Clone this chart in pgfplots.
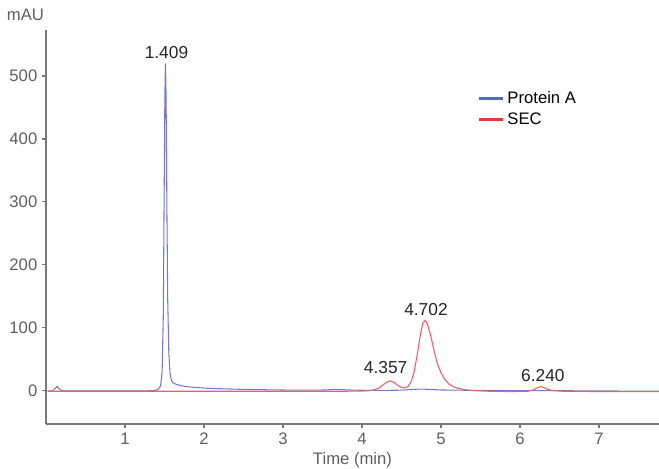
\documentclass[border=0pt]{standalone}
\usepackage{fontspec}
\setmainfont{Liberation Sans}
\usepackage{pgfplots}
\pgfplotsset{compat=1.18}
\definecolor{pablue}{RGB}{118,118,212}
\definecolor{secred}{RGB}{236,95,105}
\definecolor{legblue}{RGB}{75,110,180}
\definecolor{legred}{RGB}{232,55,55}
\definecolor{axgray}{RGB}{120,120,120}
\definecolor{txtgray}{RGB}{95,95,95}
\begin{document}
\begin{tikzpicture}[x=1pt,y=1pt]
\begin{axis}[
  name=ax,
  scale only axis,
  width=459.75pt, height=295.5pt,
  xmin=0, xmax=7.76, ymin=-52.5, ymax=573,
  axis lines*=left,
  axis line style={axgray, line width=0.9pt},
  xtick={1,2,3,4,5,6,7}, ytick={0,100,200,300,400,500},
  tick style={axgray, line width=0.8pt},
  tick align=outside, major tick length=3pt,
  /pgf/number format/assume math mode=true,
  ticklabel style={font=\fontsize{12.5}{14}\selectfont, text=txtgray},
  xlabel={Time (min)},
  xlabel style={font=\fontsize{12.5}{14}\selectfont, text=txtgray, yshift=1pt},
  clip=false,
  legend style={at={(axis cs:5.45,482)}, anchor=north west, draw=none, fill=none,
    font=\fontsize{12.5}{14}\selectfont, row sep=1.5pt, inner sep=1pt},
  legend cell align=left,
  legend image code/.code={\draw[#1, line width=2pt] (0pt,0pt) -- (18pt,0pt);},
]
\addplot[pablue, line width=0.8pt, forget plot] coordinates {
(0.02,0) (0.08,0) (0.11,3) (0.14,7) (0.17,3) (0.21,0) (0.5,0) (1.0,0) (1.3,0.2)
(1.38,0.8) (1.42,2.5) (1.45,8) (1.47,30) (1.485,120) (1.495,300) (1.505,470) (1.512,520)
(1.52,470) (1.53,300) (1.54,150) (1.555,60) (1.57,28) (1.59,16) (1.62,12) (1.66,10)
(1.72,8) (1.8,6.5) (1.9,5.5) (2.0,4.5) (2.2,3.5) (2.5,2.5) (2.8,1.8) (3.1,1.3)
(3.4,1.2) (3.55,1.6) (3.65,2.5) (3.75,2) (3.9,1.2) (4.2,0.8) (4.5,1.2) (4.65,2.5)
(4.75,3) (4.85,2.5) (5.0,1.5) (5.4,1) (5.9,0.5) (6.3,0.5) (7.0,0) (7.76,-0.5)};
\addplot[secred, line width=0.8pt, forget plot] coordinates {
(0.02,-0.5) (1.0,-0.5) (2.0,-0.5) (3.0,-0.5) (3.8,-0.5) (4.05,0) (4.15,1.5) (4.22,5)
(4.28,11) (4.33,15) (4.36,16) (4.40,14) (4.45,9) (4.50,5.5) (4.54,5) (4.58,7)
(4.62,14) (4.66,30) (4.70,58) (4.74,90) (4.77,107) (4.80,112) (4.83,106) (4.87,88)
(4.91,65) (4.95,45) (5.00,29) (5.05,18) (5.10,11) (5.16,6.5) (5.22,4) (5.30,2)
(5.40,0.5) (5.6,-0.5) (5.9,-1) (6.10,-0.5) (6.17,1.5) (6.22,5) (6.26,7) (6.30,5.5)
(6.35,2.5) (6.42,0.5) (6.55,-0.5) (7.0,-1) (7.76,-1)};
\addlegendimage{legblue}
\addlegendentry{Protein A}
\addlegendimage{legred}
\addlegendentry{SEC}
\node[font=\fontsize{13}{14}\selectfont, text=black!85] at (axis cs:1.525,538) {1.409};
\node[font=\fontsize{13}{14}\selectfont, text=black!85] at (axis cs:4.30,37) {4.357};
\node[font=\fontsize{13}{14}\selectfont, text=black!85] at (axis cs:4.81,130) {4.702};
\node[font=\fontsize{13}{14}\selectfont, text=black!85] at (axis cs:6.29,24) {6.240};
\node[font=\fontsize{12.5}{14}\selectfont, text=txtgray, anchor=east] at ([xshift=2pt,yshift=11pt]rel axis cs:0,1) {mAU};
\end{axis}
\pgfresetboundingbox
\path ([xshift=-34.5pt,yshift=-33.75pt]ax.south west) rectangle ([yshift=22.5pt]ax.north east);
\end{tikzpicture}
\end{document}
